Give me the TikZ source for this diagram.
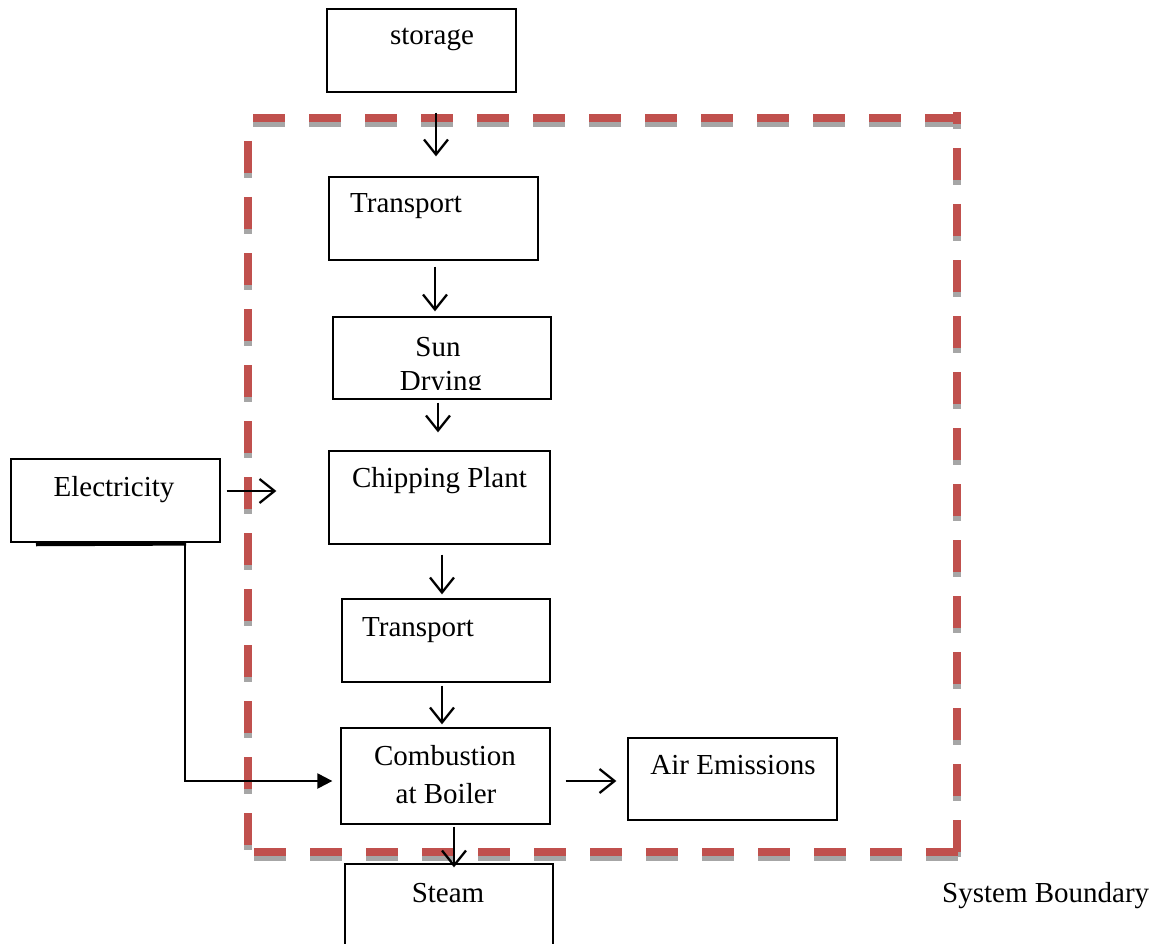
\documentclass[tikz,border=0pt]{standalone}
\usepackage{fontspec}
\setmainfont{Liberation Serif}
\usetikzlibrary{arrows.meta}
\definecolor{bndred}{HTML}{C0504D}
\definecolor{bndgray}{HTML}{A6A6A6}
\tikzset{
  box/.style={draw=black, line width=1.3pt, inner sep=0pt, fill=white},
  txt/.style={inner sep=0pt, font=\fontsize{29}{35}\selectfont},
  openarr/.style={line width=2.3pt, -{Straight Barb[length=15pt,width=24pt]}},
  fillarr/.style={line width=2.3pt, -{Triangle[length=15pt,width=15pt]}},
  bnd/.style={line width=8pt, color=bndred, dash pattern=on 32pt off 24pt},
  bndsh/.style={line width=8pt, color=bndgray, dash pattern=on 32pt off 24pt, yshift=-5pt},
}
\begin{document}
\begin{tikzpicture}[x=1pt,y=-1pt]
\useasboundingbox (0,0) rectangle (1156,944);
\fill[white] (0,0) rectangle (1156,944);

% boxes
\node[box, minimum width=189pt, minimum height=83pt] (storage) at (421.5,50.5) {};
\node[box, minimum width=209pt, minimum height=83pt] (trans1) at (433.5,218.5) {};
\node[box, minimum width=218pt, minimum height=82pt] (sun) at (442,358) {};
\node[box, minimum width=221pt, minimum height=93pt] (chip) at (439.5,497.5) {};
\node[box, minimum width=209pt, minimum height=83pt] (elec) at (115.5,500.5) {};
\node[box, minimum width=208pt, minimum height=83pt] (trans2) at (446,640.5) {};
\node[box, minimum width=209pt, minimum height=96pt] (comb) at (445.5,776) {};
\node[box, minimum width=209pt, minimum height=82pt] (air) at (732.5,779) {};
\node[box, minimum width=208pt, minimum height=83pt] (steam) at (449,905.5) {};

% boundary shadows
\draw[bndsh] (253,118) -- (957,118);
\draw[bndsh, dash phase=20pt] (957,112) -- (957,852);
\draw[bndsh] (248,141) -- (248,845);
\draw[bndsh] (254,852) -- (958,852);
% boundary
\draw[bnd] (253,118) -- (957,118);
\draw[bnd, dash phase=20pt] (957,112) -- (957,852);
\draw[bnd] (248,141) -- (248,845);
\draw[bnd] (254,852) -- (958,852);

% texts
\node[txt, anchor=base] (tstorage) at (432,45) {storage};
\node[txt, anchor=base west] (ttrans1) at (350,213) {Transport};
\node[txt, anchor=base] (tsun) at (438,356) {Sun};
\begin{scope}
  \clip (334,300) rectangle (550,389);
  \node[txt, anchor=base] (tdry) at (441,390) {Drying};
\end{scope}
\node[txt, anchor=base] (tchip) at (439.5,487) {Chipping Plant};
\node[txt, anchor=base] (telec) at (114,496) {Electricity};
\node[txt, anchor=base west] (ttrans2) at (362,636) {Transport};
\node[txt, anchor=base] (tcomb1) at (445,765) {Combustion};
\node[txt, anchor=base] (tcomb2) at (446,803) {at Boiler};
\node[txt, anchor=base] (tair) at (733,774) {Air Emissions};
\node[txt, anchor=base] (tsteam) at (448,902) {Steam};
\node[txt, anchor=base west] (tsys) at (942,902) {System Boundary};

% connectors
\draw[openarr] ([xshift=14.5pt,yshift=-20pt]storage.south) -- ([xshift=2.5pt,yshift=20pt]trans1.north);
\draw[openarr] ([xshift=1.5pt,yshift=-6pt]trans1.south) -- ([xshift=-7pt,yshift=5pt]sun.north);
\draw[openarr] ([xshift=-4pt,yshift=-3pt]sun.south) -- ([xshift=-1.5pt,yshift=18pt]chip.north);
\draw[openarr] ([xshift=2.5pt,yshift=-10pt]chip.south) -- ([xshift=-4pt,yshift=4pt]trans2.north);
\draw[openarr] ([xshift=-4pt,yshift=-3pt]trans2.south) -- ([xshift=-3.5pt,yshift=3pt]comb.north);
\draw[openarr] ([xshift=8.5pt,yshift=-2pt]comb.south) -- ([xshift=5pt,yshift=-4pt]steam.north);
\draw[openarr] ([xshift=15pt,yshift=-5pt]comb.east) -- ([xshift=-11pt,yshift=-2pt]air.west);
\draw[openarr] ([xshift=6pt,yshift=9.5pt]elec.east) -- ([xshift=-52pt,yshift=6.5pt]chip.west);
\coordinate (elbow) at (185,544);
\draw[line width=3.2pt] ([xshift=-79.5pt,yshift=-2pt]elec.south) -- ([xshift=1.2pt]elbow);
\draw[fillarr] (elbow) |- ([xshift=-8pt,yshift=-5pt]comb.west);
\end{tikzpicture}
\end{document}
